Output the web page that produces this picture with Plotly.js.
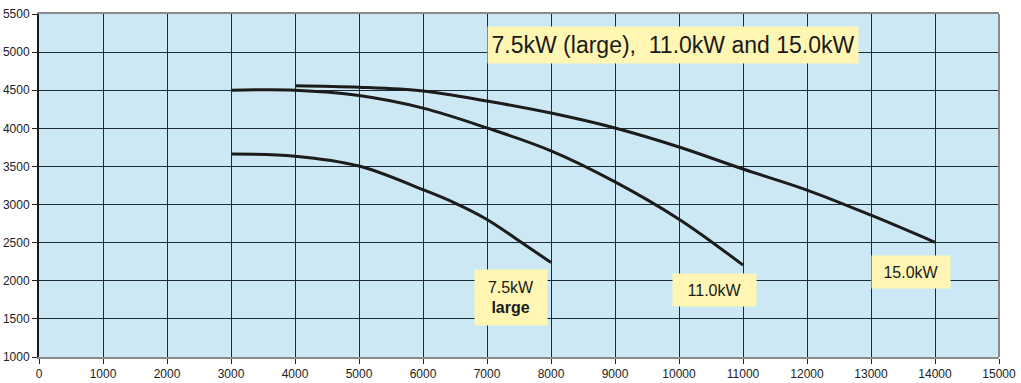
<!DOCTYPE html>
<html>
<head>
<meta charset="utf-8">
<script src="https://cdn.plot.ly/plotly-3.0.1.min.js"></script>
<style>html,body{margin:0;padding:0;background:#fff;}#chart{width:1021px;height:383px;}</style>
</head>
<body>
<div id="chart"></div>
<script>
// Data
const x75 = [3000, 4000, 5000, 6000, 6500, 7000, 7500, 8000];
const y75 = [3662, 3635, 3505, 3195, 3020, 2805, 2525, 2240];
const x110 = [3000, 4000, 5000, 6000, 7000, 8000, 9000, 10000, 11000];
const y110 = [4500, 4500, 4430, 4265, 4005, 3705, 3298, 2808, 2206];
const x150 = [4000, 5000, 6000, 7000, 8000, 9000, 10000, 11000, 12000, 13000, 14000];
const y150 = [4560, 4540, 4490, 4358, 4200, 4004, 3755, 3466, 3190, 2860, 2505];
const xTicks = [0,1000,2000,3000,4000,5000,6000,7000,8000,9000,10000,11000,12000,13000,14000,15000];
const yTicks = [1000,1500,2000,2500,3000,3500,4000,4500,5000,5500];
const titleText = "7.5kW (large),  11.0kW and 15.0kW";
const label75 = "7.5kW<br><b>large</b>";
const label110 = "11.0kW";
const label150 = "15.0kW";

const lineStyle = {color: '#1c1c1c', width: 3, shape: 'spline', smoothing: 1};
const traces = [
  {x: x75, y: y75, mode: 'lines', line: lineStyle, hoverinfo: 'skip'},
  {x: x110, y: y110, mode: 'lines', line: lineStyle, hoverinfo: 'skip'},
  {x: x150, y: y150, mode: 'lines', line: lineStyle, hoverinfo: 'skip'}
];

const boxBg = '#fff6b4';
const layout = {
  width: 1021, height: 383,
  margin: {l: 39, r: 22, t: 14, b: 26},
  paper_bgcolor: '#ffffff',
  plot_bgcolor: '#cce8f4',
  showlegend: false,
  font: {family: 'Liberation Sans, Arial, sans-serif', color: '#222'},
  xaxis: {
    range: [0, 15000], tickvals: xTicks, ticktext: xTicks.map(String),
    showgrid: true, gridcolor: '#1b2a33', gridwidth: 1,
    zeroline: false, showline: true, linecolor: '#8a8a8a', linewidth: 2, mirror: true,
    ticks: 'outside', ticklen: 5, tickcolor: '#222', tickwidth: 1,
    tickfont: {size: 12, color: '#222'}, fixedrange: true
  },
  yaxis: {
    range: [1000, 5500], tickvals: yTicks, ticktext: yTicks.map(String),
    showgrid: true, gridcolor: '#1b2a33', gridwidth: 1,
    zeroline: false, showline: true, linecolor: '#1a1a1a', linewidth: 2,
    ticks: 'outside', ticklen: 5, tickcolor: '#222', tickwidth: 1,
    tickfont: {size: 12, color: '#222'}, fixedrange: true
  },
  shapes: [
    {type: 'line', xref: 'paper', yref: 'paper', x0: 1, x1: 1, y0: 0, y1: 1,
     line: {color: '#8a8a8a', width: 2}}
  ],
  annotations: [
    {x: 9906, y: 5093, xref: 'x', yref: 'y', text: titleText, showarrow: false,
     font: {size: 23, color: '#1a1a1a'}, bgcolor: boxBg, borderpad: 3, width: 364, height: 30},
    {x: 7375, y: 1780, xref: 'x', yref: 'y', text: label75, showarrow: false,
     font: {size: 16, color: '#1a1a1a'}, bgcolor: boxBg, borderpad: 3, width: 66, height: 49},
    {x: 10555, y: 1878, xref: 'x', yref: 'y', text: label110, showarrow: false,
     font: {size: 16, color: '#1a1a1a'}, bgcolor: boxBg, borderpad: 3, width: 77, height: 26},
    {x: 13625, y: 2114, xref: 'x', yref: 'y', text: label150, showarrow: false,
     font: {size: 16, color: '#1a1a1a'}, bgcolor: boxBg, borderpad: 3, width: 72, height: 26}
  ]
};

Plotly.newPlot('chart', traces, layout, {displayModeBar: false, staticPlot: true});
</script>
</body>
</html>
